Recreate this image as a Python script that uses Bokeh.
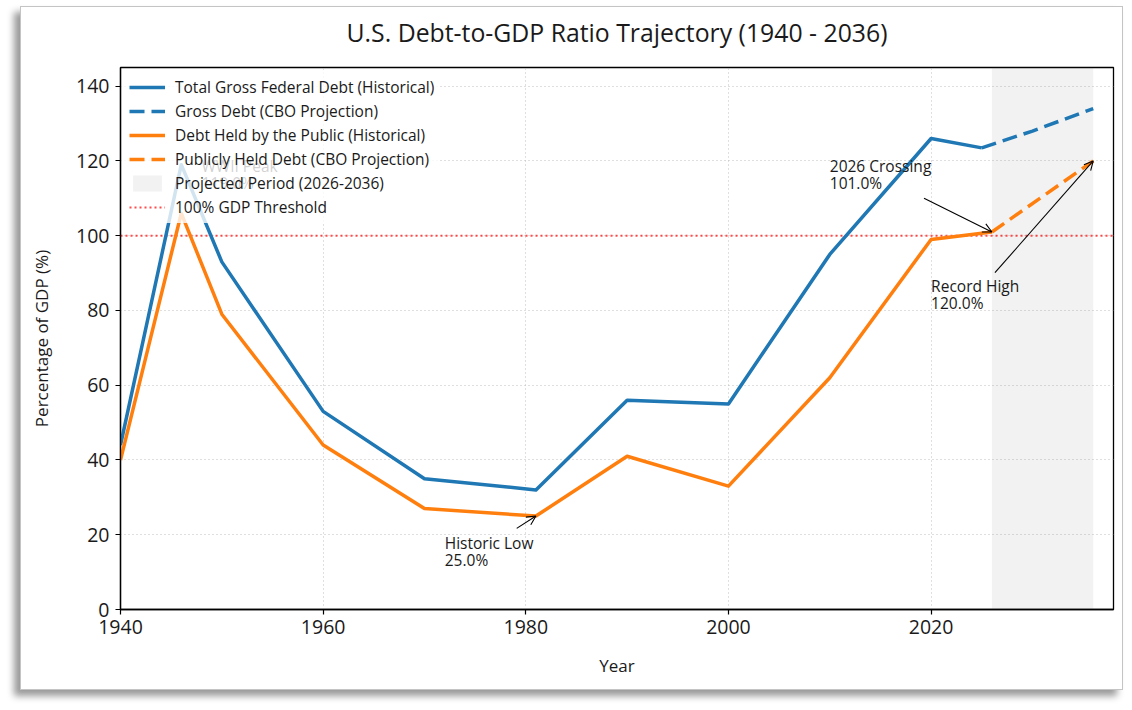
from bokeh.plotting import figure
from bokeh.models import Legend, LegendItem, Arrow, OpenHead, FixedTicker, Range1d, Title
from bokeh.core.properties import value
from bokeh.embed import file_html
from bokeh.resources import INLINE

# --- data (percent of GDP) ---
gross_years = [1940, 1946, 1950, 1960, 1970, 1981, 1990, 2000, 2010, 2020, 2025]
gross_hist = [44, 119, 93, 53, 35, 32, 56, 55, 95, 126, 123.5]
gross_proj_years = [2025, 2030, 2036]
gross_proj = [123.5, 128, 134]

public_years = [1940, 1946, 1950, 1960, 1970, 1981, 1990, 2000, 2010, 2020, 2026]
public_hist = [40, 106, 79, 44, 27, 25, 41, 33, 62, 99, 101]
public_proj_years = [2026, 2036]
public_proj = [101, 120]

projection_period = (2026, 2036)
threshold = 100

x_ticks = [1940, 1960, 1980, 2000, 2020]
y_ticks = [0, 20, 40, 60, 80, 100, 120, 140]

FONT = "Open Sans"
TEXT = "#1a1a1a"
BLUE = "#1f77b4"
ORANGE = "#ff7f0e"

X_MIN, X_MAX = 1940, 2038
Y_MIN, Y_MAX = 0, 145

p = figure(
    width=1103, height=684,
    x_range=Range1d(X_MIN, X_MAX), y_range=Range1d(Y_MIN, Y_MAX),
    output_backend="svg", toolbar_location=None,
    min_border_left=99, min_border_right=11, min_border_top=60, min_border_bottom=82,
    title="U.S. Debt-to-GDP Ratio Trajectory (1940 - 2036)",
    margin=(6, 0, 0, 20),
    styles={"border": "1px solid #c4c4c4",
            "box-shadow": "-6px 6px 7px rgba(0,0,0,0.40)",
            "background": "white"},
)
p.background_fill_color = "white"
p.border_fill_color = "white"
p.outline_line_color = "black"
p.outline_line_width = 1.3
p.outline_line_alpha = 1.0

p.title.text_font = FONT
p.title.text_font_size = "24.8px"
p.title.text_font_style = "normal"
p.title.text_color = TEXT
p.title.align = "center"
p.title.standoff = 4

# blank strip between the heading and the plot frame
p.add_layout(Title(text=" ", text_font_size="13.4px", standoff=0), "above")

for ax in (p.xaxis[0], p.yaxis[0]):
    ax.axis_line_color = "black"
    ax.axis_line_width = 1.3
    ax.major_tick_line_color = "black"
    ax.major_tick_line_width = 1.2
    ax.major_tick_out = 5
    ax.major_tick_in = 0
    ax.minor_tick_line_color = None
    ax.major_label_text_font = FONT
    ax.major_label_text_font_size = "19.5px"
    ax.major_label_text_color = TEXT
    ax.axis_label_text_font = FONT
    ax.axis_label_text_font_size = "17px"
    ax.axis_label_text_font_style = "normal"
    ax.axis_label_text_color = TEXT

p.xaxis.ticker = FixedTicker(ticks=x_ticks)
p.yaxis.ticker = FixedTicker(ticks=y_ticks)
p.xaxis.axis_label = "Year"
p.yaxis.axis_label = "Percentage of GDP (%)"
p.xaxis.major_label_standoff = 5
p.yaxis.major_label_standoff = 6
p.xaxis.axis_label_standoff = 17
p.yaxis.axis_label_standoff = 20

for g in (p.xgrid[0], p.ygrid[0]):
    g.grid_line_color = "#b8b8b8"
    g.grid_line_dash = "1 3"
    g.grid_line_width = 1
    g.grid_line_alpha = 0.9

# shaded projection window
r_shade = p.quad(left=[projection_period[0]], right=[projection_period[1]],
                 bottom=[Y_MIN], top=[Y_MAX],
                 fill_color="gray", fill_alpha=0.1, line_color=None)

# 100% threshold
r_thr = p.line(x=[X_MIN, X_MAX], y=[threshold, threshold],
               line_color="red", line_alpha=0.7, line_width=2, line_dash="2 3")

# series
r_g = p.line(gross_years, gross_hist, line_color=BLUE, line_width=3.5, line_join="round")
r_gp = p.line(gross_proj_years, gross_proj, line_color=BLUE, line_width=3.5, line_dash="15 7")
r_p = p.line(public_years, public_hist, line_color=ORANGE, line_width=3.5, line_join="round")
r_pp = p.line(public_proj_years, public_proj, line_color=ORANGE, line_width=3.5, line_dash="15 7")

# callouts: (label, target x, target y, text x, text y, arrow start or None)
i_peak = gross_years.index(1946)
i_low = public_years.index(1981)
callouts = [
    ("WWII Peak", gross_years[i_peak], gross_hist[i_peak], 1948.0, 121.5, None),
    ("Historic Low", public_years[i_low], public_hist[i_low], 1972.0, 20.8, (1979.1, 21.7)),
    ("2026 Crossing", public_years[-1], public_hist[-1], 2010.0, 121.5, (2019.3, 110.0)),
    ("Record High", public_proj_years[-1], public_proj[-1], 2020.0, 89.5, (2026.3, 90.1)),
]
p.text(
    x=[c[3] for c in callouts], y=[c[4] for c in callouts],
    text=[f"{c[0]}\n{c[2]:.1f}%" for c in callouts],
    text_font=value(FONT), text_font_size="15.5px", text_color=TEXT,
    text_baseline="top", text_align="left", text_line_height=0.78,
)
for label, tx, ty, _, _, start in callouts:
    if start is None:
        continue
    p.add_layout(Arrow(
        end=OpenHead(size=9, line_width=1.1, line_color="black"),
        x_start=start[0], y_start=start[1], x_end=tx, y_end=ty,
        line_color="black", line_width=1.1,
    ))

legend = Legend(
    items=[
        LegendItem(label="Total Gross Federal Debt (Historical)", renderers=[r_g]),
        LegendItem(label="Gross Debt (CBO Projection)", renderers=[r_gp]),
        LegendItem(label="Debt Held by the Public (Historical)", renderers=[r_p]),
        LegendItem(label="Publicly Held Debt (CBO Projection)", renderers=[r_pp]),
        LegendItem(label="Projected Period (2026-2036)", renderers=[r_shade]),
        LegendItem(label="100% GDP Threshold", renderers=[r_thr]),
    ],
    location="top_left",
    margin=4, padding=5, spacing=2,
    glyph_width=36, glyph_height=20, label_height=20, label_standoff=10,
    label_text_font=FONT, label_text_font_size="15.5px", label_text_color=TEXT,
    background_fill_color="white", background_fill_alpha=0.8,
    border_line_alpha=0,
)
p.add_layout(legend)

open("out.html", "w").write(file_html(p, INLINE))
